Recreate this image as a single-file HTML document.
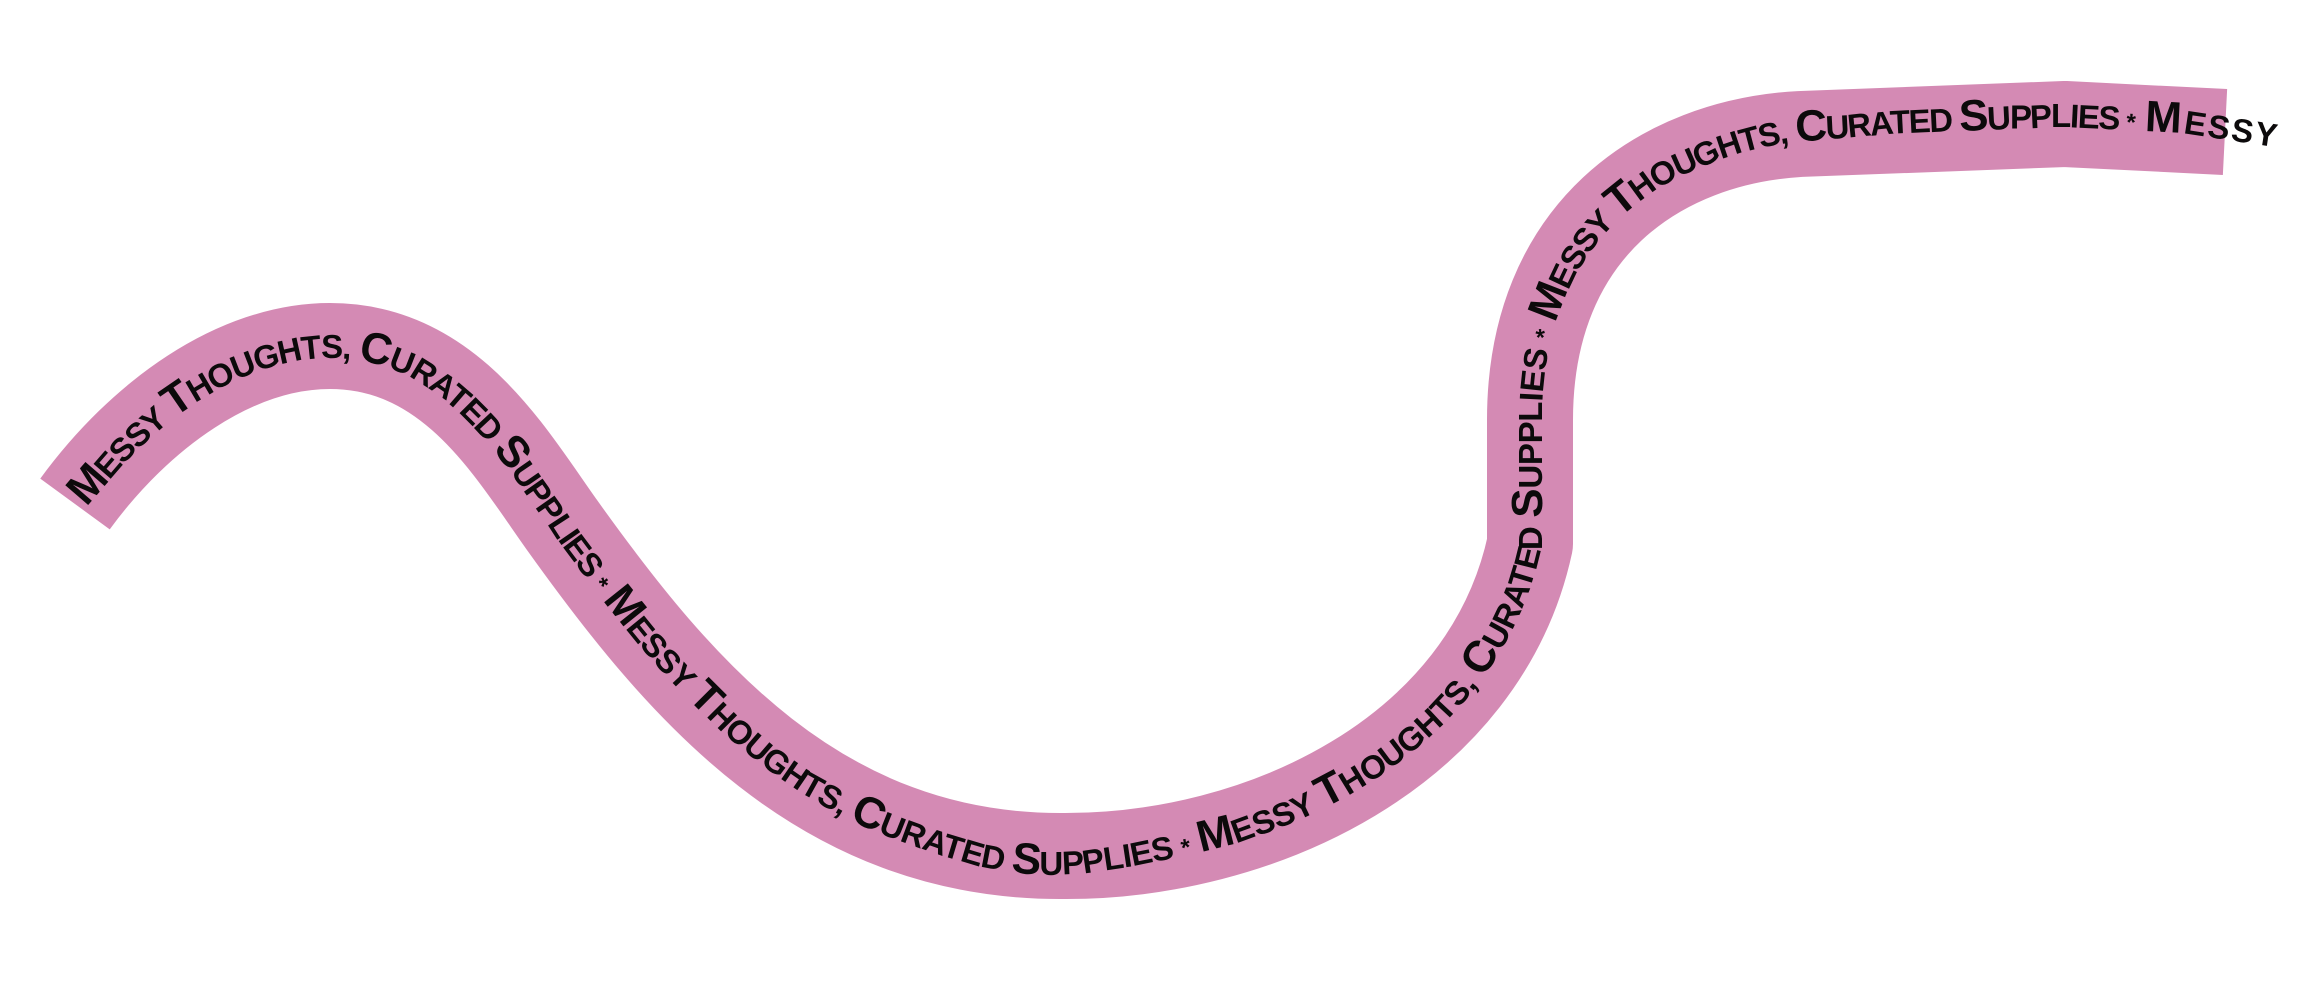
<!DOCTYPE html>
<html>
<head>
<meta charset="utf-8">
<style>
  html,body{margin:0;padding:0;background:#ffffff;}
  body{width:2300px;height:988px;overflow:hidden;}
  svg{display:block;}
  .tx{font-family:"Liberation Sans", Arial, sans-serif;font-weight:700;font-size:33px;fill:#0c0a0b;}
  .i{font-size:44px;}
  .a{font-size:24px;}
</style>
</head>
<body>
<svg width="2300" height="988" viewBox="0 0 2300 988" xmlns="http://www.w3.org/2000/svg">
  <rect x="0" y="0" width="2300" height="988" fill="#ffffff"/>
  <path id="rib" d="M 75 504 C 140 415 235 346 330 346 C 450 346 510 452 562 525 C 680 690 820 856 1060 856 C 1260 858 1485 752 1530 544 L 1530 420 C 1530 230 1660 142 1800 134 L 2065 124 L 2225 132"
        fill="none" stroke="#d48ab4" stroke-width="86" stroke-linejoin="round" stroke-linecap="butt"/>
  <path id="tp" d="M 75 504 C 140 415 235 346 330 346 C 450 346 510 452 562 525 C 680 690 820 856 1060 856 C 1260 858 1485 752 1530 544 L 1530 420 C 1530 230 1660 142 1800 134 L 2065 124 L 2225 132 L 2400 141"
        fill="none" stroke="none"/>

  <text id="t0" class="tx"><textPath href="#tp" startOffset="4"><tspan class="i">M</tspan>ESSY <tspan class="i">T</tspan>HOUGHTS, <tspan class="i">C</tspan>URATED <tspan class="i">S</tspan>UPPLIES <tspan class="a">*</tspan></textPath></text>
  <text id="t1" class="tx"><textPath href="#tp" startOffset="690"><tspan class="i">M</tspan>ESSY <tspan class="i">T</tspan>HOUGHTS, <tspan class="i">C</tspan>URATED <tspan class="i">S</tspan>UPPLIES <tspan class="a">*</tspan></textPath></text>
  <text id="t2" class="tx"><textPath href="#tp" startOffset="1380"><tspan class="i">M</tspan>ESSY <tspan class="i">T</tspan>HOUGHTS, <tspan class="i">C</tspan>URATED <tspan class="i">S</tspan>UPPLIES <tspan class="a">*</tspan></textPath></text>
  <text id="t3" class="tx"><textPath href="#tp" startOffset="2065"><tspan class="i">M</tspan>ESSY <tspan class="i">T</tspan>HOUGHTS, <tspan class="i">C</tspan>URATED <tspan class="i">S</tspan>UPPLIES <tspan class="a">*</tspan></textPath></text>
  <text id="t4" class="tx"><textPath href="#tp" startOffset="2750"><tspan class="i">M</tspan>ESSY</textPath></text>
</svg>
<script>
(function(){
try{
  var rib=document.getElementById('rib'), tp=document.getElementById('tp');
  var L=rib.getTotalLength();
  function dirAt(s){
    var a=rib.getPointAtLength(Math.max(0,s-1.5)), b=rib.getPointAtLength(Math.min(L,s+1.5));
    var dx=b.x-a.x, dy=b.y-a.y, n=Math.sqrt(dx*dx+dy*dy)||1;
    return [dx/n,dy/n];
  }
  function offAt(x,y){
    var o=12;
    if(y>700){
      var d=Math.abs(x-1040);
      if(d<140){ o+=7*0.5*(1+Math.cos(Math.PI*d/140)); }
    }
    if(y<240 && x>1700){
      if(x<1900){ o=12-9*(x-1700)/200; }
      else if(x<2180){ o=3; }
      else { o=3+11*Math.min(1,(x-2180)/110); }
    }
    return o;
  }
  var pts=[], s, p, d, o;
  for(s=0;s<=L;s+=2){
    p=rib.getPointAtLength(s); d=dirAt(s); o=offAt(p.x,p.y);
    pts.push((p.x-d[1]*o).toFixed(1)+' '+(p.y+d[0]*o).toFixed(1));
  }
  var pe=rib.getPointAtLength(L), de=dirAt(L-2);
  for(var k=2;k<=180;k+=2){
    var x=pe.x+de[0]*k, y=pe.y+de[1]*k; o=offAt(x,y);
    pts.push((x-de[1]*o).toFixed(1)+' '+(y+de[0]*o).toFixed(1));
  }
  tp.setAttribute('d','M'+pts.join(' L'));
  var T=tp.getTotalLength();
  function near(tx,ty){
    var best=0, bd=1e18;
    for(var s=0;s<=T;s+=1.5){
      var q=tp.getPointAtLength(s);
      var dd=(q.x-tx)*(q.x-tx)+(q.y-ty)*(q.y-ty);
      if(dd<bd){bd=dd;best=s;}
    }
    return best;
  }
  var targets=[[80,500],[606,597],[1200,850],[1537,318],[2145,120]];
  var S=targets.map(function(t){return near(t[0],t[1]);});
  S[0]=Math.max(0,S[0]-2);
  for(var i=0;i<5;i++){
    var te=document.getElementById('t'+i);
    var tpe=te.querySelector('textPath');
    tpe.setAttribute('startOffset',S[i].toFixed(1));
    var nat=te.getComputedTextLength();
    var n=te.getNumberOfChars();
    var tgt=(i<4)?(S[i+1]-S[i]-9):132;
    var ls=(tgt-nat)/Math.max(1,n-1);
    ls=Math.max(-4,Math.min(8,ls));
    te.setAttribute('letter-spacing',ls.toFixed(2));
  }
}catch(e){}
})();
</script>
</body>
</html>
